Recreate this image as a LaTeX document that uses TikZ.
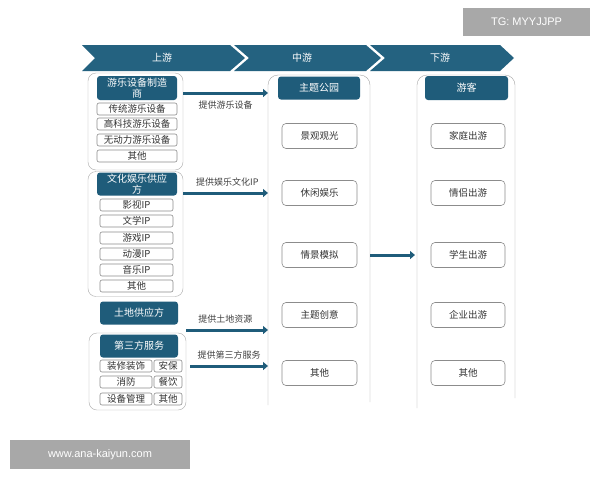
\documentclass[tikz,border=0pt]{standalone}
\usepackage{fontspec}
\setmainfont{Noto Sans CJK SC}
\newfontfamily\wmfont{Liberation Sans}
\usetikzlibrary{arrows.meta}
\usetikzlibrary{positioning}
\definecolor{chain}{RGB}{31,92,122}
\definecolor{band}{RGB}{36,98,128}
\definecolor{wm}{RGB}{168,168,168}
\tikzset{head box/.style={fill=chain,
                          text=white,
                          rounded corners=3pt,
                          inner sep=0pt,
                          align=center,
                          font=\fontsize{10}{10.5}\selectfont}}
\tikzset{item box/.style={draw=gray!90,
                          line width=0.6pt,
                          fill=white,
                          text=black!80,
                          rounded corners=2pt,
                          inner sep=0pt,
                          font=\fontsize{9.5}{10}\selectfont}}
\tikzset{stage box/.style={item box,
                           minimum height=25pt,
                           rounded corners=4pt,
                           font=\fontsize{9.5}{10}\selectfont}}
\tikzset{group box/.style={draw=gray!65,
                           rounded corners=8pt,
                           inner sep=0pt}}
\tikzset{flow/.style={draw=chain,
                      line width=3pt,
                      -{Triangle[length=5pt,width=8pt]}}}
\tikzset{flow label/.style={text=black!75,
                            inner sep=1pt,
                            font=\fontsize{9}{10}\selectfont}}

\begin{document}
\begin{tikzpicture}
      [
      x=1pt,y=-1pt,
      column/.style={draw=gray!70,rounded corners=10pt},
      ]

      \useasboundingbox [fill=white] (0,0) rectangle (600,480);

      % banner
      \fill [band] (82,45) -- (230,45) -- (245,58) -- (230,71) -- (82,71) -- (95,58) -- cycle;
      \fill [band] (234,45) -- (366,45) -- (381,58) -- (366,71) -- (234,71) -- (249,58) -- cycle;
      \fill [band] (370,45) -- (500,45) -- (514,58) -- (500,71) -- (370,71) -- (385,58) -- cycle;
      \foreach \x/\t in {162/上游,302/中游,440/下游}
      {
      \node [text=white,font=\fontsize{10}{11}\selectfont] at (\x,58) {\t};
      }

      % upstream groups
      \node [group box,minimum width=95pt,minimum height=97pt] (G1) at (135.5,121.5) {};
      \node [head box,minimum width=80pt,minimum height=24pt] (H1) at (137,88) {游乐设备制造\\商};
      \foreach \i/\y/\t in
      {
      1/109/传统游乐设备,
      2/124/高科技游乐设备,
      3/140/无动力游乐设备,
      4/156/其他
      }
      {
      \node [item box,minimum width=80pt,minimum height=12pt] (U1\i) at (137,\y) {\t};
      }

      \node [group box,minimum width=95pt,minimum height=125pt] (G2) at (135.5,234) {};
      \node [head box,minimum width=80pt,minimum height=23pt] (H2) at (137,184) {文化娱乐供应\\方};
      \foreach \i/\y/\t in
      {
      1/205/影视IP,
      2/221/文学IP,
      3/238/游戏IP,
      4/254/动漫IP,
      5/270/音乐IP,
      6/286/其他
      }
      {
      \node [item box,minimum width=73pt,minimum height=12pt] (U2\i) at (136.5,\y) {\t};
      }

      \node [head box,minimum width=78pt,minimum height=23pt] (H3) at (139,313) {土地供应方};

      \node [group box,minimum width=97pt,minimum height=77pt] (G4) at (137.5,371.5) {};
      \node [head box,minimum width=78pt,minimum height=23pt] (H4) at (139,346) {第三方服务};
      \foreach \i/\y/\l/\r in
      {
      1/366/装修装饰/安保,
      2/382/消防/餐饮,
      3/399/设备管理/其他
      }
      {
      \node [item box,minimum width=52pt,minimum height=12pt] (U4\i) at (126,\y) {\l};
      \node [item box,minimum width=28pt,minimum height=12pt] (V4\i) at (168,\y) {\r};
      }

      % midstream and downstream columns
      \draw [column] (268,405) -- (268,75) coordinate (Mw) -- (370,75) -- (370,402) coordinate (Me);
      \draw [column] (417,408) coordinate (Rw) -- (417,75) -- (515,75) -- (515,398);
      \node [head box,minimum width=82pt,minimum height=23pt] (M0) at (319,88) {主题公园};
      \node [head box,minimum width=83pt,minimum height=24pt] (R0) at (466.5,88) {游客};
      \foreach \i/\y/\m/\r in
      {
      1/136/景观观光/家庭出游,
      2/193/休闲娱乐/情侣出游,
      3/255/情景模拟/学生出游,
      4/315/主题创意/企业出游,
      5/373/其他/其他
      }
      {
      \node [stage box,minimum width=75pt] (M\i) at (319.5,\y) {\m};
      \node [stage box,minimum width=74pt] (R\i) at (468,\y) {\r};
      }

      % flows
      \coordinate (A1) at (0,93);
      \coordinate (A2) at (0,193);
      \coordinate (A3) at (0,330);
      \coordinate (A4) at (0,366);
      \draw [flow] (G1.east |- A1) -- (Mw |- A1)
      node [flow label,pos=0.5,below=5pt] {提供游乐设备};
      \draw [flow] (G2.east |- A2) -- (Mw |- A2)
      node [flow label,pos=0.52,above=4pt] {提供娱乐文化IP};
      \draw [flow] (G4.east |- A3) -- (Mw |- A3)
      node [flow label,pos=0.48,above=4pt] {提供土地资源};
      \draw [flow] ([xshift=4pt]G4.east |- A4) -- (Mw |- A4)
      node [flow label,pos=0.5,above=4pt] {提供第三方服务};
      \draw [flow] (Me |- M3) -- ([xshift=-2pt]Rw |- M3);

      % marks
      \node [fill=wm,text=white,font=\wmfont\fontsize{11}{12}\selectfont,
      minimum width=127pt,minimum height=28pt] (T1) at (526.5,22) {TG: MYYJJPP};
      \node [fill=wm,text=white,font=\wmfont\fontsize{11}{12}\selectfont,
      minimum width=180pt,minimum height=29pt] (T2) at (100,454.5) {www.ana-kaiyun.com};

\end{tikzpicture}
\end{document}
